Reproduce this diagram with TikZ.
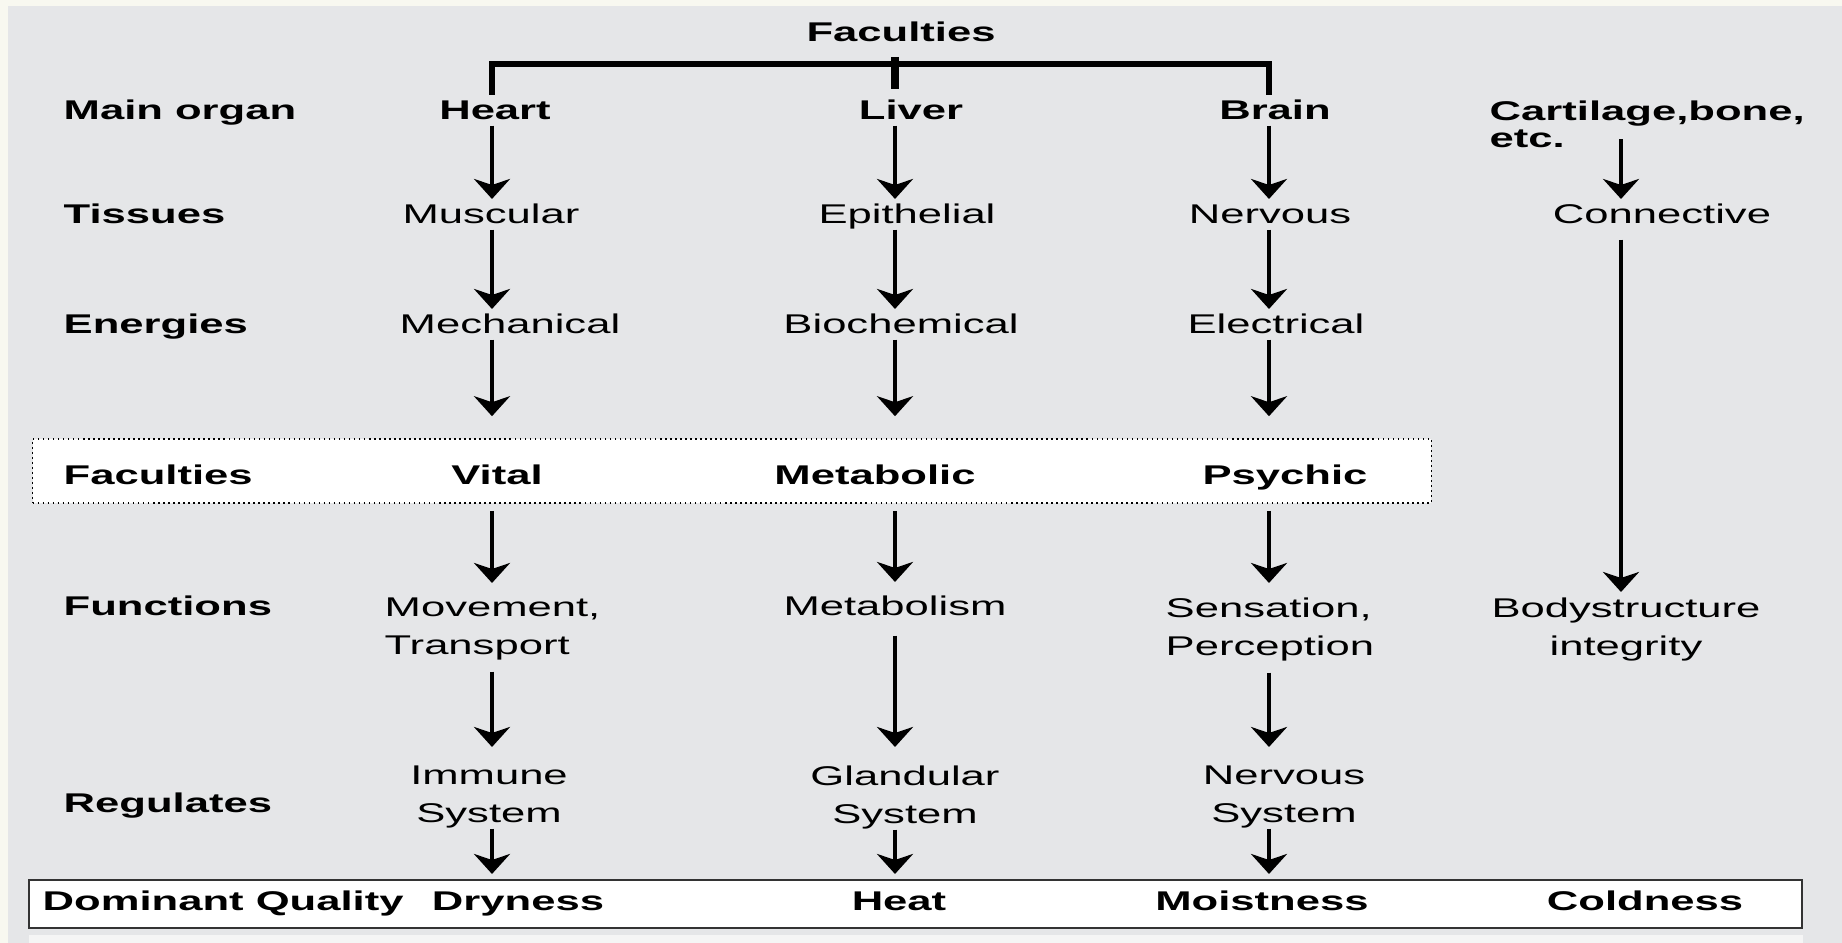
\documentclass[tikz,border=0pt]{standalone}
\usepackage{fontspec}
\setmainfont{Liberation Sans}[FakeStretch=1.61]
\usepackage{tikz}
\usetikzlibrary{positioning}
\usetikzlibrary{arrows.meta,calc}
\definecolor{bggrey}{HTML}{E5E6E8}
\definecolor{paper}{HTML}{F8F8F0}

\begin{document}
\begin{tikzpicture}[x=0.01cm, y=-0.01cm, font=\fontsize{7.7}{10.8}\selectfont,
  txt/.style={inner sep=0.5mm, anchor=base, text height=1.93mm, text depth=0pt},
  hd/.style={txt, font=\fontsize{7.7}{10.8}\selectfont\bfseries},
  row/.style={hd, anchor=base west},
  two/.style={inner sep=0.5mm, align=center},
  arr/.style={-{Stealth[length=2mm, width=3.6mm, inset=0.6mm]}, line width=0.45mm}]
  \useasboundingbox (0,0) rectangle (1842,943);
  % Background
  \fill[paper] (0,0) rectangle (1842,943);
  \fill[bggrey] (8,6) rectangle (1842,943);
  \fill[black!4] (29,935) rectangle (1803,943);

  % Boxes
  \node [draw, densely dotted, line width=0.15mm, fill=white, minimum width=13.98cm, minimum height=0.64cm, inner sep=0] (facbox) at (732,471) {};
  \node [draw=black!80, line width=0.2mm, fill=white, minimum width=17.71cm, minimum height=0.48cm, inner sep=0] (qualbox) at (915.5,904) {};

  % Columns
  \coordinate (c1) at (492,0);
  \coordinate (c2) at (895,0);
  \coordinate (c3) at (1269,0);
  \coordinate (c4) at (1621,0);

  % Nodes
  \node [hd] (top) at (901,42) {Faculties};

  \node [row] (lorgan) at (58,120) {Main organ};
  \node [row] (ltis) at (58,224) {Tissues};
  \node [row] (lene) at (58,334) {Energies};
  \node [row] (lfac) at (58,485) {Faculties};
  \node [row] (lfun) at (58,616) {Functions};
  \node [row] (lreg) at (58,812) {Regulates};
  \node [row] (lqual) at (37,910) {Dominant Quality};

  \node [hd] (heart) at (495,120) {Heart};
  \node [hd] (liver) at (911,120) {Liver};
  \node [hd] (brain) at (1275,120) {Brain};
  \node [two, align=left, anchor=north west, font=\fontsize{7.7}{7.7}\selectfont\bfseries] (cart) at (1484,95) {Cartilage,bone,\\etc.};

  \node [txt] (musc) at (491,224) {Muscular};
  \node [txt] (epith) at (907,224) {Epithelial};
  \node [txt] (nerv) at (1270,224) {Nervous};
  \node [txt] (conn) at (1662,224) {Connective};

  \node [txt] (mech) at (510,334) {Mechanical};
  \node [txt] (bioch) at (901,334) {Biochemical};
  \node [txt] (elec) at (1276,334) {Electrical};

  \node [hd] (vital) at (497,485) {Vital};
  \node [hd] (metab) at (875,485) {Metabolic};
  \node [hd] (psych) at (1285,485) {Psychic};

  \node [two, align=left, anchor=north west] (move) at (379,592) {Movement,\\Transport};
  \node [txt] (metabol) at (895,616) {Metabolism};
  \node [two, align=left, anchor=north west] (sens) at (1160,592) {Sensation,\\Perception};
  \node [two, anchor=north] (body) at (1626,592) {Bodystructure\\integrity};

  \node [two, anchor=north] (immune) at (489,760) {Immune\\System};
  \node [two, anchor=north] (gland) at (905,760) {Glandular\\System};
  \node [two, anchor=north] (nsys) at (1284,760) {Nervous\\System};

  \node [hd] (dry) at (518,910) {Dryness};
  \node [hd] (heat) at (899,910) {Heat};
  \node [hd] (moist) at (1262,910) {Moistness};
  \node [hd] (cold) at (1645,910) {Coldness};

  % Bracket
  \coordinate (brk) at (895,64);
  \draw [line width=0.6mm] (c1 |- heart.north) |- (brk) -| (c3 |- brain.north);
  \draw [line width=0.8mm, shorten >=0.6mm] ($(brk)+(0,-7)$) -- (brk |- liver.north);

  % Arrows
  \foreach \c/\a/\b/\d/\e/\f in {c1/heart/musc/mech/move/immune, c3/brain/nerv/elec/sens/nsys} {
    \draw [arr] (\c |- \a.south) -- (\c |- \b.north);
    \draw [arr] (\c |- \b.south) -- (\c |- \d.north);
    \draw [arr, shorten >=2.2mm] (\c |- \d.south) -- (\c |- facbox.north);
    \draw [arr, shorten <=0.7mm, shorten >=0.9mm] (\c |- facbox.south) -- (\c |- \e.north);
    \draw [arr, shorten <=0.6mm, shorten >=1.3mm] (\c |- \e.south) -- (\c |- \f.north);
    \draw [arr, shorten <=-0.5mm, shorten >=0.5mm] (\c |- \f.south) -- (\c |- qualbox.north);
  }
  \draw [arr] (c2 |- liver.south) -- (c2 |- epith.north);
  \draw [arr] (c2 |- epith.south) -- (c2 |- bioch.north);
  \draw [arr, shorten >=2.2mm] (c2 |- bioch.south) -- (c2 |- facbox.north);
  \draw [arr, shorten <=0.7mm, shorten >=0.9mm] (c2 |- facbox.south) -- (c2 |- metabol.north);
  \draw [arr, shorten <=1.4mm, shorten >=1.3mm] (c2 |- metabol.south) -- (c2 |- gland.north);
  \draw [arr, shorten <=-0.5mm, shorten >=0.5mm] (c2 |- gland.south) -- (c2 |- qualbox.north);
  \draw [arr, shorten <=-1.4mm] (c4 |- cart.south) -- (c4 |- conn.north);
  \draw [arr, shorten <=1mm] (c4 |- conn.south) -- (c4 |- body.north);
\end{tikzpicture}
\end{document}
